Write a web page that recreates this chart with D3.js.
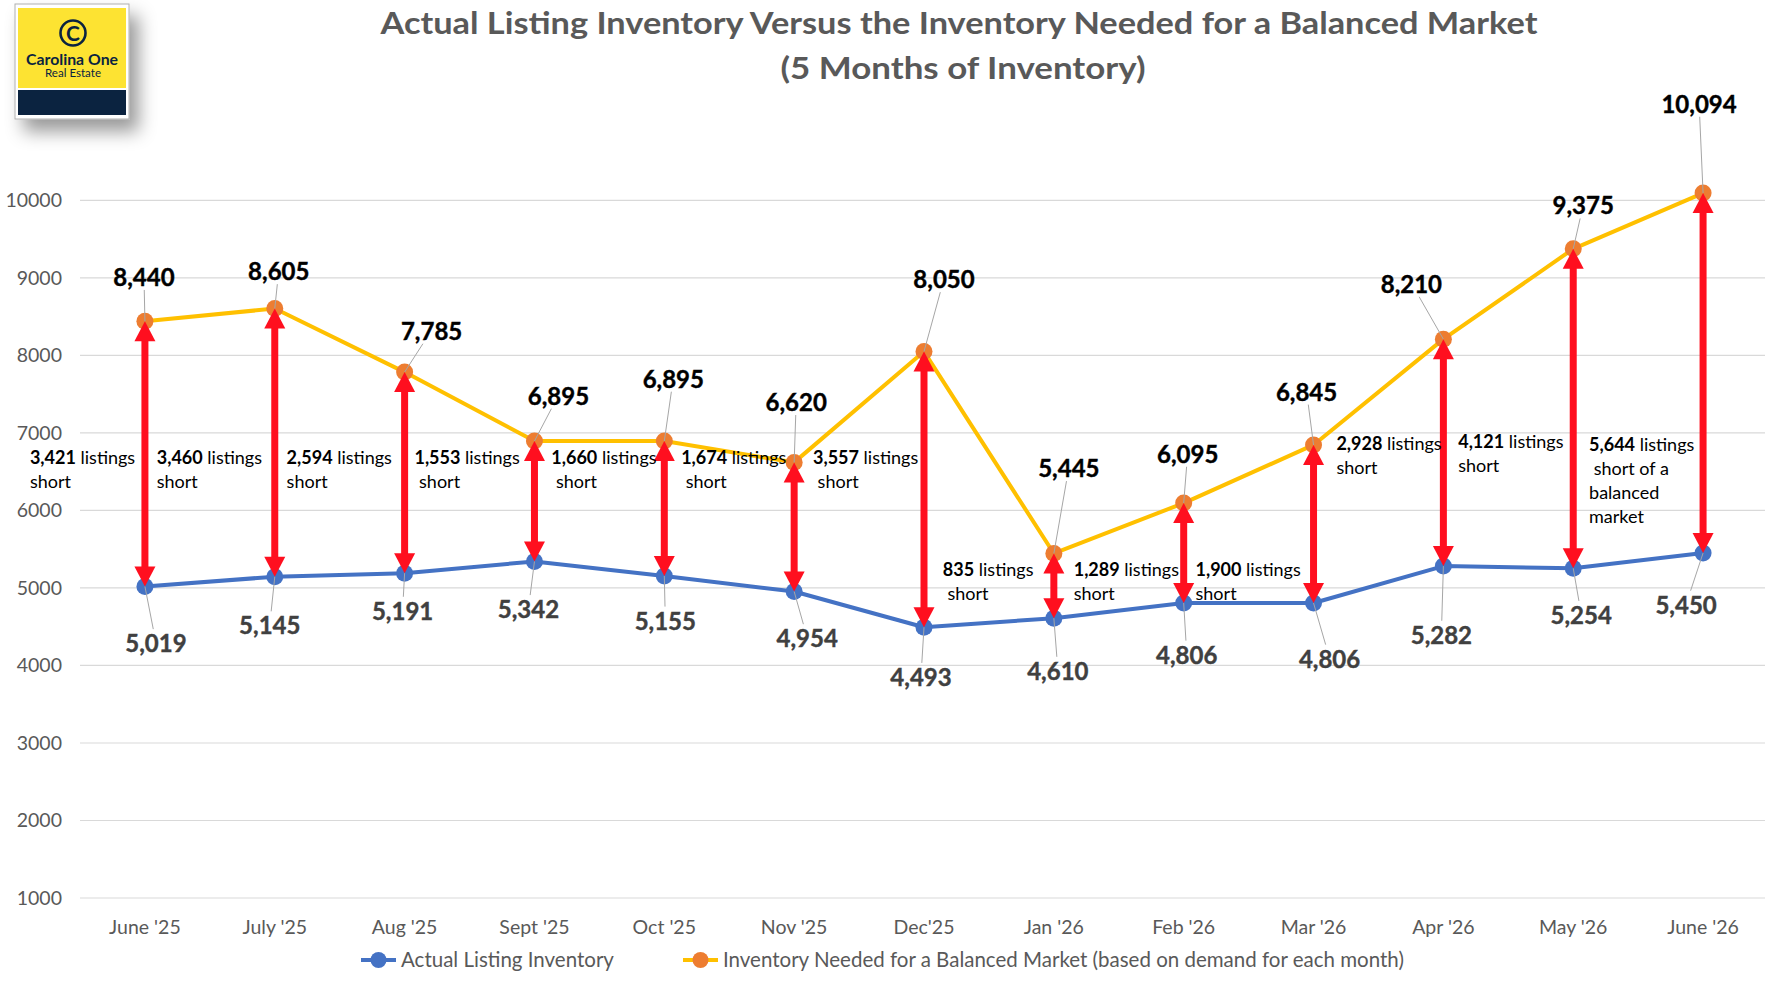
<!DOCTYPE html>
<html>
<head>
<meta charset="utf-8">
<script src="https://cdn.jsdelivr.net/npm/d3@7"></script>
<style>
	body { margin: 0; background: #fff; }
	svg { font-family: Lato, "Open Sans", "Noto Sans", sans-serif; }
	.pre { white-space: pre; }
</style>
</head>
<body>
<svg id="chart" width="1765" height="985"></svg>
<script>

// ---------------- data ---------------- //

var months = ["June '25", "July '25", "Aug '25", "Sept '25", "Oct '25", "Nov '25", "Dec'25",
	"Jan '26", "Feb '26", "Mar '26", "Apr '26", "May '26", "June '26"];

var actualInventory = [5019, 5145, 5191, 5342, 5155, 4954, 4493, 4610, 4806, 4806, 5282, 5254, 5450];

var neededInventory = [8440, 8605, 7785, 6895, 6895, 6620, 8050, 5445, 6095, 6845, 8210, 9375, 10094];

var shortNumbers = ["3,421", "3,460", "2,594", "1,553", "1,660", "1,674", "3,557",
	"835", "1,289", "1,900", "2,928", "4,121", "5,644"];

var shortCaptions = [["short"], ["short"], ["short"], [" short"], [" short"], [" short"], [" short"],
	[" short"], ["short"], ["short"], ["short"], ["short"], [" short of a", "balanced", "market"]];

var yTicks = [1000, 2000, 3000, 4000, 5000, 6000, 7000, 8000, 9000, 10000];

var seriesNames = ["Actual Listing Inventory",
	"Inventory Needed for a Balanced Market (based on demand for each month)"];

// ---------------- label layout (offsets from the point, px) ---------------- //

var neededLabelOffset = [[-1, -44], [4, -37], [27, -41], [24, -45], [9, -62], [2, -60], [20, -72],
	[15, -85], [4, -49], [-7, -53], [-32, -55], [10, -43], [-4, -89]];

var actualLabelOffset = [[11, 57], [-5, 49], [-2, 38], [-6, 48], [1, 45], [13, 47], [-3, 50],
	[4, 53], [3, 52], [16, 56], [-2, 69], [8, 47], [-17, 52]];

var shortLabelDx = [-115, -118, -118, -120, -113, -113, -111, -111, -110, -118, -107, -115, -114];
var shortLabelAt = [6683, 6683, 6683, 6683, 6683, 6683, 6683, 5234, 5234, 5234, 6857, 6885, 6843];

// ---------------- setup ---------------- //

var BLUE = "#4472C4",
	GOLD = "#FFC000",
	ORANGE = "#ED7D31",
	RED = "#FF0F1F",
	AXIS_TEXT = "#595959";

var svg = d3.select("#chart");

var x = d3.scalePoint()
	.domain(months)
	.range([80, 1768])
	.padding(0.5);

var y = d3.scaleLinear()
	.domain([1000, 10000])
	.range([898, 200.4]);

var defs = svg.append("defs");
defs.append("filter")
	.attr("id", "shadow")
	.attr("x", "-40%").attr("y", "-40%").attr("width", "190%").attr("height", "190%")
	.append("feDropShadow")
		.attr("dx", 9).attr("dy", 12)
		.attr("stdDeviation", 9)
		.attr("flood-color", "#000")
		.attr("flood-opacity", 0.4);

// ---------------- title ---------------- //

svg.append("text")
	.attr("x", 959).attr("y", 34)
	.attr("text-anchor", "middle")
	.attr("font-size", 30).attr("font-weight", "bold")
	.attr("fill", AXIS_TEXT)
	.attr("textLength", 1157).attr("lengthAdjust", "spacingAndGlyphs")
	.text("Actual Listing Inventory Versus the Inventory Needed for a Balanced Market");

svg.append("text")
	.attr("x", 963).attr("y", 79)
	.attr("text-anchor", "middle")
	.attr("font-size", 30).attr("font-weight", "bold")
	.attr("fill", AXIS_TEXT)
	.attr("textLength", 365).attr("lengthAdjust", "spacingAndGlyphs")
	.text("(5 Months of Inventory)");

// ---------------- logo ---------------- //

var logo = svg.append("g").attr("class", "logo");
logo.append("rect")
	.attr("x", 15).attr("y", 4).attr("width", 114).attr("height", 115)
	.attr("fill", "#fff").attr("stroke", "#b0b0b0").attr("stroke-width", 1)
	.attr("filter", "url(#shadow)");
logo.append("rect")
	.attr("x", 18).attr("y", 8).attr("width", 108).attr("height", 80)
	.attr("fill", "#FDE332");
logo.append("rect")
	.attr("x", 18).attr("y", 90).attr("width", 108).attr("height", 25)
	.attr("fill", "#0B2340");
logo.append("circle")
	.attr("cx", 73).attr("cy", 33).attr("r", 12.5)
	.attr("fill", "none").attr("stroke", "#0B2340").attr("stroke-width", 2.6);
logo.append("text")
	.attr("x", 73).attr("y", 40.5)
	.attr("text-anchor", "middle")
	.attr("font-size", 21).attr("font-weight", "bold")
	.attr("fill", "#0B2340")
	.text("C");
logo.append("text")
	.attr("x", 72).attr("y", 65)
	.attr("text-anchor", "middle")
	.attr("font-size", 15).attr("font-weight", "bold")
	.attr("fill", "#0B2340")
	.attr("textLength", 92).attr("lengthAdjust", "spacingAndGlyphs")
	.text("Carolina One");
logo.append("text")
	.attr("x", 73).attr("y", 77)
	.attr("text-anchor", "middle")
	.attr("font-size", 12)
	.attr("fill", "#0B2340")
	.attr("textLength", 56).attr("lengthAdjust", "spacingAndGlyphs")
	.text("Real Estate");

// ---------------- grid and axes ---------------- //

svg.append("g")
	.selectAll("line")
	.data(yTicks)
	.enter()
	.append("line")
		.attr("x1", 80).attr("x2", 1765)
		.attr("y1", function(d) {return y(d);})
		.attr("y2", function(d) {return y(d);})
		.attr("stroke", "#D9D9D9")
		.attr("stroke-width", 1.2);

svg.append("g")
	.selectAll("text")
	.data(yTicks)
	.enter()
	.append("text")
		.attr("x", 62)
		.attr("y", function(d) {return y(d);})
		.attr("dy", "0.35em")
		.attr("text-anchor", "end")
		.attr("font-size", 19.5)
		.attr("fill", AXIS_TEXT)
		.text(function(d) {return d;});

svg.append("g")
	.selectAll("text")
	.data(months)
	.enter()
	.append("text")
		.attr("x", function(d) {return x(d);})
		.attr("y", 934)
		.attr("text-anchor", "middle")
		.attr("font-size", 19.5)
		.attr("fill", AXIS_TEXT)
		.text(function(d) {return d;});

// ---------------- series ---------------- //

function seriesLine(values) {
	return d3.line()
		.x(function(d, i) {return x(months[i]);})
		.y(function(d) {return y(d);})(values);
}

svg.append("path")
	.attr("d", seriesLine(actualInventory))
	.attr("fill", "none").attr("stroke", BLUE)
	.attr("stroke-width", 4).attr("stroke-linejoin", "round");

svg.append("path")
	.attr("d", seriesLine(neededInventory))
	.attr("fill", "none").attr("stroke", GOLD)
	.attr("stroke-width", 4).attr("stroke-linejoin", "round");

svg.append("g")
	.selectAll("circle")
	.data(actualInventory)
	.enter()
	.append("circle")
		.attr("cx", function(d, i) {return x(months[i]);})
		.attr("cy", function(d) {return y(d);})
		.attr("r", 8.5)
		.attr("fill", BLUE);

svg.append("g")
	.selectAll("circle")
	.data(neededInventory)
	.enter()
	.append("circle")
		.attr("cx", function(d, i) {return x(months[i]);})
		.attr("cy", function(d) {return y(d);})
		.attr("r", 8.5)
		.attr("fill", ORANGE);

// ---------------- red double arrows ---------------- //

var HEAD_LEN = 20,
	HEAD_HALF = 10.5;

var arrows = svg.append("g").attr("class", "arrows");

months.forEach(function(m, i) {
	var cx = x(m),
		top = y(neededInventory[i]),
		bot = y(actualInventory[i]);
	arrows.append("line")
		.attr("x1", cx).attr("x2", cx)
		.attr("y1", top + HEAD_LEN - 1).attr("y2", bot - HEAD_LEN + 1)
		.attr("stroke", RED).attr("stroke-width", 7);
	arrows.append("path")
		.attr("d", "M" + cx + "," + top +
			"L" + (cx + HEAD_HALF) + "," + (top + HEAD_LEN) +
			"L" + (cx - HEAD_HALF) + "," + (top + HEAD_LEN) + "Z")
		.attr("fill", RED);
	arrows.append("path")
		.attr("d", "M" + cx + "," + bot +
			"L" + (cx + HEAD_HALF) + "," + (bot - HEAD_LEN) +
			"L" + (cx - HEAD_HALF) + "," + (bot - HEAD_LEN) + "Z")
		.attr("fill", RED);
});

// ---------------- data labels with leader lines ---------------- //

var leaders = svg.append("g").attr("class", "leaders");

function leaderTo(box, px, py) {
	var bx = box.x - 3, by = box.y - 2, bw = box.width + 6, bh = box.height + 4,
		cx = bx + bw / 2, cy = by + bh / 2,
		dx = px - cx, dy = py - cy,
		t = Math.min(
			dx === 0 ? Infinity : (bw / 2) / Math.abs(dx),
			dy === 0 ? Infinity : (bh / 2) / Math.abs(dy));
	if (t >= 1) return;
	leaders.append("line")
		.attr("x1", cx + dx * t).attr("y1", cy + dy * t)
		.attr("x2", px).attr("y2", py)
		.attr("stroke", "#A6A6A6").attr("stroke-width", 1);
}

function valueLabels(values, offsets, color) {
	var g = svg.append("g");
	values.forEach(function(v, i) {
		var px = x(months[i]), py = y(v);
		var t = g.append("text")
			.attr("x", px + offsets[i][0])
			.attr("y", py + offsets[i][1])
			.attr("dy", "0.36em")
			.attr("text-anchor", "middle")
			.attr("font-size", 24).attr("font-weight", "bold")
			.attr("fill", color)
			.attr("stroke", color).attr("stroke-width", 0.4)
			.text(d3.format(",")(v));
		var b = t.node().getBBox();
		leaderTo({x: b.x, y: b.y + 3, width: b.width, height: b.height - 6}, px, py);
	});
}

valueLabels(neededInventory, neededLabelOffset, "#000");
valueLabels(actualInventory, actualLabelOffset, "#404040");

// ---------------- shortfall labels ---------------- //

var LINE_H = 24;
var shortG = svg.append("g").attr("font-size", 18).attr("fill", "#000");

shortNumbers.forEach(function(n, i) {
	var lx = x(months[i]) + shortLabelDx[i],
		ly = y(shortLabelAt[i]);
	var t = shortG.append("text")
		.attr("class", "pre")
		.attr("x", lx).attr("y", ly)
		.attr("dy", "0.35em");
	t.append("tspan").attr("font-weight", "bold").text(n);
	t.append("tspan").text(" listings");
	shortCaptions[i].forEach(function(line, k) {
		shortG.append("text")
			.attr("class", "pre")
			.attr("x", lx).attr("y", ly + LINE_H * (k + 1))
			.attr("dy", "0.35em")
			.text(line);
	});
});

// ---------------- legend ---------------- //

var legendItems = [
	{name: seriesNames[0], line: BLUE, dot: BLUE, x: 361},
	{name: seriesNames[1], line: GOLD, dot: ORANGE, x: 683}
];

var legend = svg.append("g").attr("class", "legend");
legendItems.forEach(function(d) {
	legend.append("line")
		.attr("x1", d.x).attr("x2", d.x + 35)
		.attr("y1", 960).attr("y2", 960)
		.attr("stroke", d.line).attr("stroke-width", 4);
	legend.append("circle")
		.attr("cx", d.x + 17.5).attr("cy", 960).attr("r", 8)
		.attr("fill", d.dot);
	legend.append("text")
		.attr("x", d.x + 40).attr("y", 960)
		.attr("dy", "0.35em")
		.attr("font-size", 20.5)
		.attr("fill", AXIS_TEXT)
		.text(d.name);
});

</script>
</body>
</html>
